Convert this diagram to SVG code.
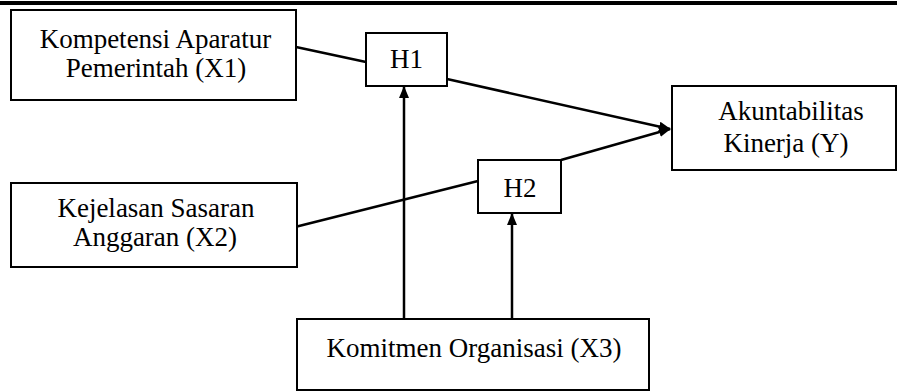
<svg xmlns="http://www.w3.org/2000/svg" width="897" height="392" viewBox="0 0 897 392">
<style>
.box{fill:#fff;stroke:#000;stroke-width:2}
.t{font-family:"Liberation Serif","Times New Roman",serif;font-size:27px;fill:#000;text-anchor:middle}
.c{stroke:#000;stroke-width:2.5;fill:none}
</style>
<defs>
<marker id="arr" markerUnits="userSpaceOnUse" markerWidth="12" markerHeight="10" refX="11" refY="5" orient="auto">
<path d="M0,0 L12,5 L0,10 z" fill="#000"/>
</marker>
</defs>
<rect x="0" y="1" width="897" height="4" fill="#000"/>
<g id="connectors">
<line class="c" x1="296" y1="47" x2="366" y2="62"/>
<line class="c" x1="447" y1="79" x2="670" y2="129" marker-end="url(#arr)"/>
<line class="c" x1="297" y1="226.5" x2="478" y2="181"/>
<line class="c" x1="561" y1="160" x2="670" y2="129" marker-end="url(#arr)"/>
<line class="c" x1="404" y1="319" x2="404" y2="87" marker-end="url(#arr)"/>
<line class="c" x1="512" y1="319" x2="512" y2="214" marker-end="url(#arr)"/>
</g>
<g id="x1">
<rect class="box" x="11" y="10" width="285" height="90"/>
<text class="t" x="155.5" y="47.5">Kompetensi Aparatur</text>
<text class="t" x="156" y="77">Pemerintah (X1)</text>
</g>
<g id="h1">
<rect class="box" x="366" y="33" width="81" height="53"/>
<text class="t" x="406.5" y="68">H1</text>
</g>
<g id="y">
<rect class="box" x="672" y="86" width="224" height="84"/>
<text class="t" x="791" y="120">Akuntabilitas</text>
<text class="t" x="786" y="152">Kinerja (Y)</text>
</g>
<g id="x2">
<rect class="box" x="11" y="183" width="286" height="84"/>
<text class="t" x="156" y="217">Kejelasan Sasaran</text>
<text class="t" x="155" y="246">Anggaran (X2)</text>
</g>
<g id="h2">
<rect class="box" x="478" y="160" width="83" height="53"/>
<text class="t" x="520" y="197">H2</text>
</g>
<g id="x3">
<rect class="box" x="297" y="319" width="352" height="71"/>
<text class="t" x="474" y="357">Komitmen Organisasi (X3)</text>
</g>
</svg>
